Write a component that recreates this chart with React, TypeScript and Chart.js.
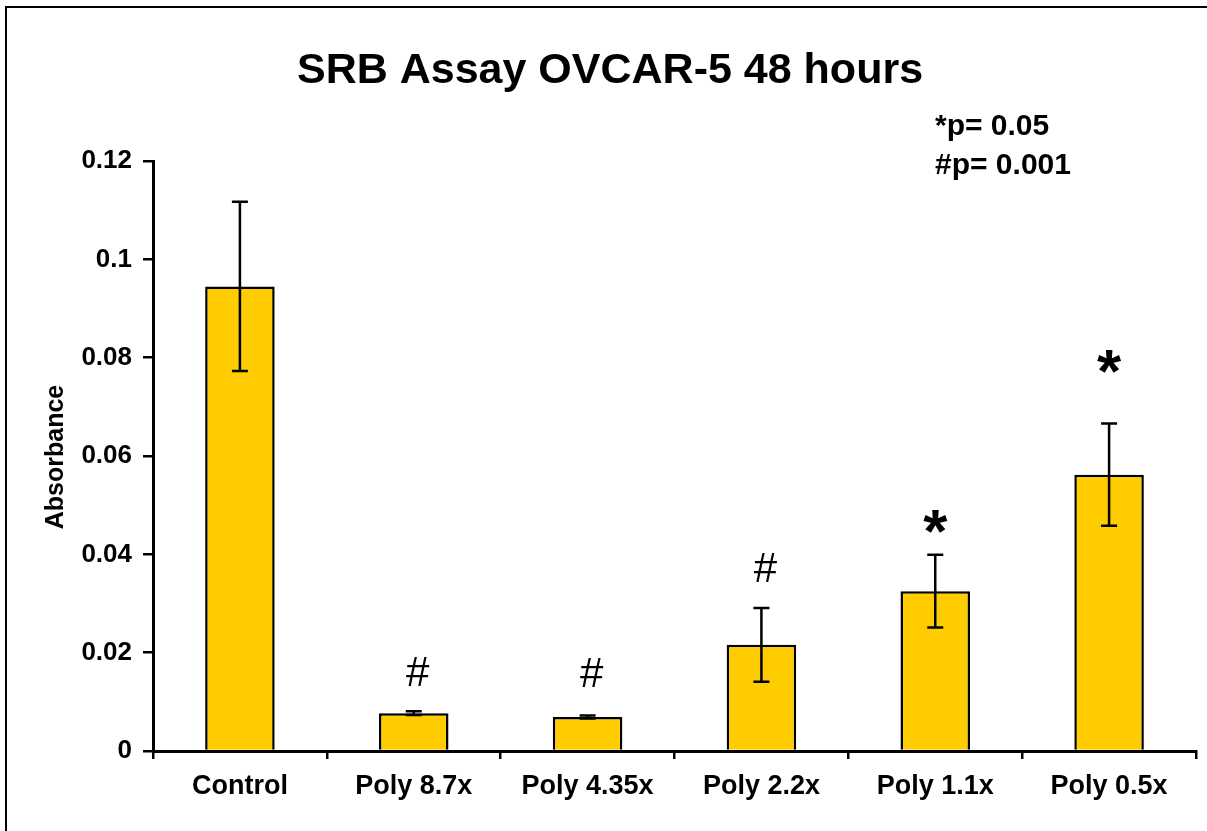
import React, { useEffect, useRef } from "react";
import { Chart, registerables } from "chart.js";

Chart.register(...registerables);

const categories = ["Control", "Poly 8.7x", "Poly 4.35x", "Poly 2.2x", "Poly 1.1x", "Poly 0.5x"];
const absorbance = [0.0945, 0.0077, 0.0069, 0.0216, 0.0325, 0.0562];
const errors = [0.0172, 0.0004, 0.0003, 0.0075, 0.0074, 0.0104];
const marks = ["", "#", "#", "#", "*", "*"];
const markLevels: (number | null)[] = [null, 0.0162, 0.016, 0.0374, 0.0466, 0.0792];
const yTickLabels = ["0", "0.02", "0.04", "0.06", "0.08", "0.1", "0.12"];
const titleText = "SRB Assay OVCAR-5 48 hours";
const noteLines = ["*p= 0.05", "#p= 0.001"];
const yAxisTitle = "Absorbance";

const FONT = '"Liberation Sans", Arial, sans-serif';

const overlay = {
  id: "overlay",
  beforeDraw(chart: any) {
    const ctx = chart.ctx;
    ctx.save();
    ctx.fillStyle = "#fff";
    ctx.fillRect(0, 0, chart.width, chart.height);
    ctx.strokeStyle = "#000";
    ctx.lineWidth = 2;
    ctx.beginPath();
    ctx.moveTo(6, chart.height);
    ctx.lineTo(6, 7);
    ctx.lineTo(chart.width, 7);
    ctx.stroke();
    ctx.restore();
  },
  afterDatasetsDraw(chart: any) {
    const ctx = chart.ctx;
    const meta = chart.getDatasetMeta(0);
    const ys = chart.scales.y;
    ctx.save();
    ctx.strokeStyle = "#000";
    ctx.lineWidth = 2.5;
    meta.data.forEach((bar: any, i: number) => {
      const x = bar.x;
      const top = ys.getPixelForValue(absorbance[i] + errors[i]);
      const bot = ys.getPixelForValue(absorbance[i] - errors[i]);
      ctx.beginPath();
      ctx.moveTo(x, top);
      ctx.lineTo(x, bot);
      ctx.moveTo(x - 8, top);
      ctx.lineTo(x + 8, top);
      ctx.moveTo(x - 8, bot);
      ctx.lineTo(x + 8, bot);
      ctx.stroke();
    });
    ctx.fillStyle = "#000";
    ctx.textAlign = "center";
    ctx.textBaseline = "alphabetic";
    meta.data.forEach((bar: any, i: number) => {
      const lvl = markLevels[i];
      if (!marks[i] || lvl === null) return;
      ctx.font = marks[i] === "*" ? `bold 62px ${FONT}` : `normal 42px ${FONT}`;
      const m = ctx.measureText(marks[i]);
      const cy = ys.getPixelForValue(lvl);
      const dy = (m.actualBoundingBoxAscent - m.actualBoundingBoxDescent) / 2;
      ctx.fillText(marks[i], bar.x + (marks[i] === "#" ? 4 : 0), cy + dy);
    });
    ctx.restore();
  },
  afterDraw(chart: any) {
    const ctx = chart.ctx;
    ctx.save();
    ctx.fillStyle = "#000";
    ctx.textAlign = "center";
    ctx.textBaseline = "alphabetic";
    ctx.font = `bold 43px ${FONT}`;
    ctx.fillText(titleText, 610, 83);
    ctx.textAlign = "left";
    ctx.font = `bold 30px ${FONT}`;
    ctx.fillText(noteLines[0], 935, 135);
    ctx.fillText(noteLines[1], 935, 174);
    ctx.translate(63, 457);
    ctx.rotate(-Math.PI / 2);
    ctx.textAlign = "center";
    ctx.font = `bold 25px ${FONT}`;
    ctx.fillText(yAxisTitle, 0, 0);
    ctx.restore();
  },
};

export default function App() {
  const ref = useRef<HTMLCanvasElement | null>(null);
  useEffect(() => {
    if (!ref.current) return;
    const chart = new Chart(ref.current, {
      type: "bar",
      data: {
        labels: categories,
        datasets: [
          {
            data: absorbance,
            backgroundColor: "#FFCC00",
            borderColor: "#000",
            borderWidth: 2.5,
            categoryPercentage: 1,
            barPercentage: 0.4,
          },
        ],
      },
      options: {
        animation: false,
        responsive: false,
        devicePixelRatio: 1,
        layout: { padding: { top: 161, right: 11, left: 0, bottom: 0 } },
        plugins: { legend: { display: false }, tooltip: { enabled: false }, title: { display: false } },
        scales: {
          x: {
            offset: true,
            grid: { offset: true, drawOnChartArea: false, drawTicks: true, tickLength: 8, color: "#000", lineWidth: 2.5 },
            border: { display: true, color: "#000", width: 3 },
            ticks: { color: "#000", font: { family: FONT, size: 27, weight: "bold" }, padding: 11, maxRotation: 0 },
            afterFit: (s: any) => {
              s.height = 80;
            },
          },
          y: {
            min: 0,
            max: 0.12,
            grid: { drawOnChartArea: false, drawTicks: true, tickLength: 10, color: "#000", lineWidth: 2.5 },
            border: { display: true, color: "#000", width: 3 },
            ticks: {
              stepSize: 0.02,
              color: "#000",
              font: { family: FONT, size: 26, weight: "bold" },
              padding: 11,
              callback: (_v: any, i: number) => yTickLabels[i],
            },
            afterFit: (s: any) => {
              s.width = 153;
            },
          },
        },
      },
      plugins: [overlay],
    } as any);
    return () => chart.destroy();
  }, []);
  return (
    <div style={{ position: "absolute", left: 0, top: 0, width: 1207, height: 831, background: "#fff" }}>
      <canvas ref={ref} width={1207} height={831} style={{ display: "block" }} />
    </div>
  );
}
